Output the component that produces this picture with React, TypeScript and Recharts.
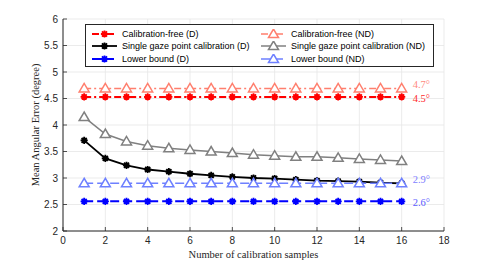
import { LineChart, Line, XAxis, YAxis, CartesianGrid, Legend, LabelList } from "recharts";

const samples = [1, 2, 3, 4, 5, 6, 7, 8, 9, 10, 11, 12, 13, 14, 15, 16];
const calibFreeD = [4.53, 4.53, 4.53, 4.53, 4.53, 4.53, 4.53, 4.53, 4.53, 4.53, 4.53, 4.53, 4.53, 4.53, 4.53, 4.53];
const calibFreeND = [4.69, 4.69, 4.69, 4.69, 4.69, 4.69, 4.69, 4.69, 4.69, 4.69, 4.69, 4.69, 4.69, 4.69, 4.69, 4.69];
const singleD = [3.71, 3.37, 3.24, 3.16, 3.12, 3.08, 3.05, 3.02, 3.0, 2.99, 2.97, 2.95, 2.94, 2.93, 2.91, 2.9];
const singleND = [4.15, 3.83, 3.69, 3.61, 3.56, 3.53, 3.5, 3.47, 3.44, 3.42, 3.4, 3.4, 3.38, 3.36, 3.34, 3.32];
const lowerD = [2.56, 2.56, 2.56, 2.56, 2.56, 2.56, 2.56, 2.56, 2.56, 2.56, 2.56, 2.56, 2.56, 2.56, 2.56, 2.56];
const lowerND = [2.9, 2.9, 2.9, 2.9, 2.9, 2.9, 2.9, 2.9, 2.9, 2.9, 2.9, 2.9, 2.9, 2.9, 2.9, 2.9];

const xTicks = [0, 2, 4, 6, 8, 10, 12, 14, 16, 18];
const yTicks = [2, 2.5, 3, 3.5, 4, 4.5, 5, 5.5, 6];

const data = samples.map((n, i) => ({
  n,
  cfD: calibFreeD[i],
  cfND: calibFreeND[i],
  sgD: singleD[i],
  sgND: singleND[i],
  lbD: lowerD[i],
  lbND: lowerND[i],
}));

const AXIS = "#262626";
const SANS = "'Liberation Sans', Arial, sans-serif";
const SERIF = "'Liberation Serif', 'Times New Roman', serif";

type Series = {
  key: string;
  name: string;
  color: string;
  width: number;
  dash?: string;
  marker: "star" | "tri";
  end?: string;
  endColor?: string;
  endDy?: number;
};

// legend order: left column (D), right column (ND)
const series: Series[] = [
  { key: "cfD", name: "Calibration-free (D)", color: "#ff0000", width: 2, dash: "7 3 2 3", marker: "star", end: "4.5°", endColor: "#ff2a2a", endDy: 5 },
  { key: "sgD", name: "Single gaze point calibration (D)", color: "#000000", width: 1.8, marker: "star" },
  { key: "lbD", name: "Lower bound (D)", color: "#0000ff", width: 2, dash: "9 4", marker: "star", end: "2.6°", endColor: "#5a5aff", endDy: 5 },
  { key: "cfND", name: "Calibration-free (ND)", color: "#ff7f6e", width: 1.5, dash: "7 3 2 3", marker: "tri", end: "4.7°", endColor: "#ff8a80", endDy: 0 },
  { key: "sgND", name: "Single gaze point calibration (ND)", color: "#808080", width: 1.5, marker: "tri" },
  { key: "lbND", name: "Lower bound (ND)", color: "#6e80ff", width: 1.5, dash: "9 4", marker: "tri", end: "2.9°", endColor: "#8080ff", endDy: 0 },
];

function Marker({ cx, cy, color, type }: { cx: number; cy: number; color: string; type: string }) {
  if (type === "tri") {
    return (
      <polygon
        points={`${cx},${cy - 5} ${cx - 5},${cy + 3.5} ${cx + 5},${cy + 3.5}`}
        fill="#fff"
        stroke={color}
        strokeWidth={1.5}
      />
    );
  }
  const r = 3.6;
  const d = r * 0.707;
  return (
    <g>
      <circle cx={cx} cy={cy} r={2.6} fill={color} />
      <path
        d={`M${cx - r},${cy}H${cx + r}M${cx},${cy - r}V${cy + r}M${cx - d},${cy - d}L${cx + d},${cy + d}M${cx - d},${cy + d}L${cx + d},${cy - d}`}
        stroke={color}
        strokeWidth={1.8}
      />
    </g>
  );
}

function BottomTick({ x, y, payload }: any) {
  return (
    <g>
      <line x1={x} x2={x} y1={y} y2={y - 4} stroke={AXIS} strokeWidth={0.8} />
      <text x={x} y={y + 13} textAnchor="middle" fontSize={10} fontFamily={SANS} fill={AXIS}>
        {payload.value}
      </text>
    </g>
  );
}

function TopTick({ x, y }: any) {
  return <line x1={x} x2={x} y1={y} y2={y + 4} stroke={AXIS} strokeWidth={0.8} />;
}

function LeftTick({ x, y, payload }: any) {
  return (
    <g>
      <line x1={x} x2={x + 4} y1={y} y2={y} stroke={AXIS} strokeWidth={0.8} />
      <text x={x - 5} y={y + 3.5} textAnchor="end" fontSize={10} fontFamily={SANS} fill={AXIS}>
        {payload.value}
      </text>
    </g>
  );
}

function RightTick({ x, y }: any) {
  return <line x1={x} x2={x - 4} y1={y} y2={y} stroke={AXIS} strokeWidth={0.8} />;
}

function LegendSample({ s }: { s: Series }) {
  return (
    <svg width={25} height={10} style={{ display: "block" }}>
      <line x1={0} x2={25} y1={5} y2={5} stroke={s.color} strokeWidth={s.width} strokeDasharray={s.dash} />
      <Marker cx={12.5} cy={5} color={s.color} type={s.marker} />
    </svg>
  );
}

const renderLegend = () => (
  <div
    style={{
      position: "relative",
      width: 349,
      height: 43,
      boxSizing: "border-box",
      border: `1px solid ${AXIS}`,
      background: "#fff",
    }}
  >
    {series.map((s, i) => {
      const col = Math.floor(i / 3);
      const row = i % 3;
      return (
        <div
          key={s.key}
          style={{
            position: "absolute",
            left: col === 0 ? 6 : 175,
            top: 4 + row * 12.3,
            display: "flex",
            alignItems: "center",
            height: 10,
            whiteSpace: "nowrap",
          }}
        >
          <LegendSample s={s} />
          <span style={{ marginLeft: 5, fontFamily: SANS, fontSize: 9, color: "#000" }}>{s.name}</span>
        </div>
      );
    })}
  </div>
);

export default function App() {
  const last = samples.length - 1;
  return (
    <div style={{ position: "absolute", left: 0, top: 0, width: 491, height: 261, background: "#fff" }}>
      <LineChart width={491} height={261} data={data} margin={{ top: 19, right: 47, bottom: 0, left: 13 }}>
        <CartesianGrid stroke="#e6e6e6" strokeWidth={0.8} />
        <XAxis
          dataKey="n"
          type="number"
          domain={[0, 18]}
          ticks={xTicks}
          height={30}
          stroke={AXIS}
          tickLine={false}
          tickSize={0}
          tickMargin={0}
          tick={<BottomTick />}
          label={(p: any) => {
            const vb = p.viewBox;
            return (
              <text x={vb.x + vb.width / 2} y={vb.y + vb.height - 3} textAnchor="middle" fontSize={10.5} fontFamily={SERIF} fill={AXIS}>
                Number of calibration samples
              </text>
            );
          }}
        />
        <XAxis
          xAxisId="top"
          orientation="top"
          dataKey="n"
          type="number"
          domain={[0, 18]}
          ticks={xTicks}
          height={0}
          stroke={AXIS}
          tickLine={false}
          tickSize={0}
          tickMargin={0}
          tick={<TopTick />}
        />
        <YAxis
          type="number"
          domain={[2, 6]}
          ticks={yTicks}
          width={50}
          stroke={AXIS}
          tickLine={false}
          tickSize={0}
          tickMargin={0}
          tick={<LeftTick />}
          label={(p: any) => {
            const vb = p.viewBox;
            const cx = 39;
            const cy = vb.y + vb.height / 2;
            return (
              <text x={cx} y={cy} transform={`rotate(-90 ${cx} ${cy})`} textAnchor="middle" fontSize={10.5} fontFamily={SERIF} fill={AXIS}>
                Mean Angular Error (degree)
              </text>
            );
          }}
        />
        <YAxis
          yAxisId="right"
          orientation="right"
          type="number"
          domain={[2, 6]}
          ticks={yTicks}
          width={0}
          stroke={AXIS}
          tickLine={false}
          tickSize={0}
          tickMargin={0}
          tick={<RightTick />}
        />
        {series.map((s) => (
          <Line
            key={s.key}
            dataKey={s.key}
            name={s.name}
            type="linear"
            stroke={s.color}
            strokeWidth={s.width}
            strokeDasharray={s.dash}
            isAnimationActive={false}
            dot={(p: any) => <Marker key={`${s.key}-${p.index}`} cx={p.cx} cy={p.cy} color={s.color} type={s.marker} />}
            activeDot={false}
          >
            {s.end && (
              <LabelList
                dataKey={s.key}
                content={(p: any) =>
                  p.index === last ? (
                    <text x={p.x + 11} y={p.y + (s.endDy ?? 0)} fontSize={10.5} fontFamily={SERIF} fill={s.endColor}>
                      {s.end}
                    </text>
                  ) : null
                }
              />
            )}
          </Line>
        ))}
        <Legend
          verticalAlign="middle"
          align="center"
          layout="vertical"
          content={renderLegend}
          wrapperStyle={{ left: 85, top: 24, width: 349, height: 43 }}
        />
      </LineChart>
    </div>
  );
}
